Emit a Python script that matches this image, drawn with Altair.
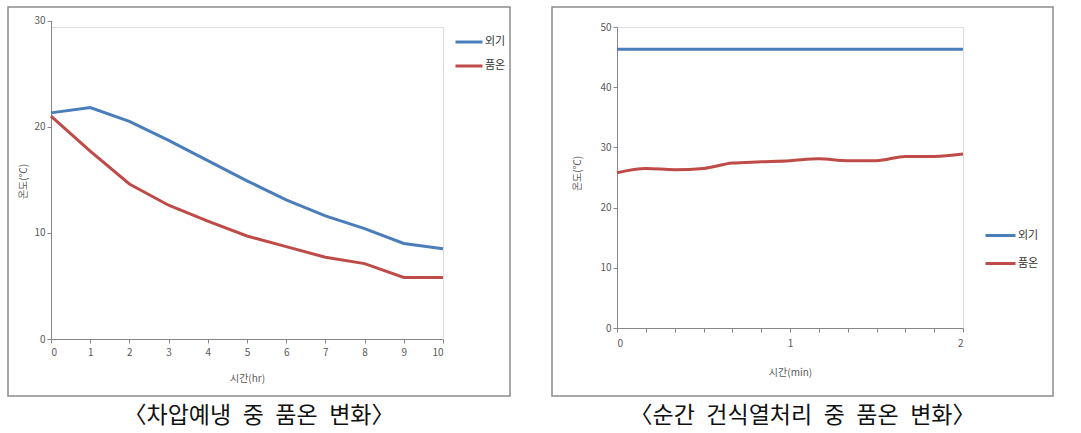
import altair as alt
import pandas as pd

# ---------------- data ----------------
left_hours = [0, 1, 2, 3, 4, 5, 6, 7, 8, 9, 10]
left_outside = [21.3, 21.8, 20.5, 18.7, 16.8, 14.9, 13.1, 11.6, 10.4, 9.0, 8.5]
left_product = [21.0, 17.7, 14.6, 12.6, 11.1, 9.7, 8.7, 7.7, 7.1, 5.8, 5.8]

right_seconds = [0, 10, 20, 30, 40, 50, 60, 70, 80, 90, 100, 110, 120]
right_outside = [46.3, 46.3, 46.3, 46.3, 46.3, 46.3, 46.3, 46.3, 46.3, 46.3, 46.3, 46.3, 46.3]
right_product = [25.8, 26.5, 26.3, 26.5, 27.4, 27.6, 27.8, 28.1, 27.8, 27.8, 28.5, 28.5, 28.9]

series_names = ["외기", "품온"]
series_colors = ["#4A7EBB", "#BE4B48"]

SP = "\u2002"
left_caption = ["〈차압예냉" + SP + "중" + SP + "품온" + SP + "변화〉"]
right_caption = ["〈순간" + SP + "건식열처리" + SP + "중" + SP + "품온" + SP + "변화〉"]

FONT = "Noto Sans CJK KR"
AX = "#868686"
LAB = "#595959"

left_df = pd.DataFrame(
    {"t": left_hours * 2,
     "v": left_outside + left_product,
     "s": [series_names[0]] * len(left_hours) + [series_names[1]] * len(left_hours)}
)
right_df = pd.DataFrame(
    {"t": right_seconds * 2,
     "v": right_outside + right_product,
     "s": [series_names[0]] * len(right_seconds) + [series_names[1]] * len(right_seconds)}
)


def axis_common(**kw):
    return alt.Axis(domainColor=AX, tickColor=AX, tickSize=4, labelColor=LAB,
                    labelFontSize=10, titleColor=LAB, titleFontSize=10,
                    titleFontWeight="normal", grid=False, labelFont=FONT,
                    titleFont=FONT, **kw)


def frame(x1, x2, y1, y2):
    return alt.Chart(pd.DataFrame({"k": [0]})).mark_rect(
        filled=False, stroke="#8c8c8c", strokeWidth=1.5
    ).encode(x=alt.value(x1), x2=alt.value(x2), y=alt.value(y1), y2=alt.value(y2))


def caption(text, cx, cy):
    return alt.Chart(pd.DataFrame({"c": text})).mark_text(
        font=FONT, fontSize=23, color="#111111", align="center", baseline="middle"
    ).encode(text="c:N", x=alt.value(cx), y=alt.value(cy))


# ---------------- left panel ----------------
# plot origin is shared with the right panel (top at y=26); the left axis reaches higher
LW, LH = 392, 312
left_lines = alt.Chart(left_df).mark_line(strokeWidth=3).encode(
    x=alt.X("t:Q", scale=alt.Scale(domain=[0, 10], nice=False),
            axis=axis_common(values=left_hours, format="d", title="시간(hr)",
                             titlePadding=16, labelPadding=4)),
    y=alt.Y("v:Q", scale=alt.Scale(domain=[0, 30], nice=False, range=[312, -6.5]),
            axis=axis_common(values=[0, 10, 20, 30], title="온도(℃)",
                             titleX=-23, titleY=154, titleAngle=-90)),
    color=alt.Color("s:N", scale=alt.Scale(domain=series_names, range=series_colors),
                    sort=series_names,
                    legend=alt.Legend(title=None, orient="none", legendX=403, legendY=0,
                                      symbolType="stroke", symbolSize=729,
                                      symbolStrokeWidth=3, rowPadding=3,
                                      labelFont=FONT, labelFontSize=11,
                                      labelColor="#333333", labelOffset=1)),
)
left = alt.layer(
    frame(-43, 459, -20, 369),
    left_lines,
    caption(left_caption, 208, 389),
).properties(width=LW, height=LH)

# ---------------- right panel ----------------
RW, RH = 346, 301
right_lines = alt.Chart(right_df).mark_line(strokeWidth=3, interpolate="monotone").encode(
    x=alt.X("t:Q", scale=alt.Scale(domain=[0, 120], nice=False),
            axis=axis_common(values=right_seconds, title="시간(min)",
                             labelExpr="datum.value % 60 === 0 ? format(datum.value / 60, 'd') : ''",
                             titlePadding=19, labelPadding=6)),
    y=alt.Y("v:Q", scale=alt.Scale(domain=[0, 50], nice=False),
            axis=axis_common(values=[0, 10, 20, 30, 40, 50], title="온도(℃)",
                             titleX=-35, titleY=146, titleAngle=-90)),
    color=alt.Color("s:N", scale=alt.Scale(domain=series_names, range=series_colors),
                    sort=series_names,
                    legend=alt.Legend(title=None, orient="none", legendX=367, legendY=192,
                                      symbolType="stroke", symbolSize=900,
                                      symbolStrokeWidth=3, rowPadding=5,
                                      labelFont=FONT, labelFontSize=11,
                                      labelColor="#333333", labelOffset=1)),
)
right = alt.layer(
    frame(-65, 436, -20, 369),
    right_lines,
    caption(right_caption, 185.5, 389),
).properties(width=RW, height=RH)

chart = alt.hconcat(left, right, spacing=38).resolve_scale(
    color="independent"
).resolve_legend(color="independent").properties(
    padding={"left": 6, "top": 5, "right": 0, "bottom": 0},
    background="white",
).configure_view(stroke=None).configure(font=FONT)

chart.save("out.html", embed_options={"renderer": "svg", "actions": False})
